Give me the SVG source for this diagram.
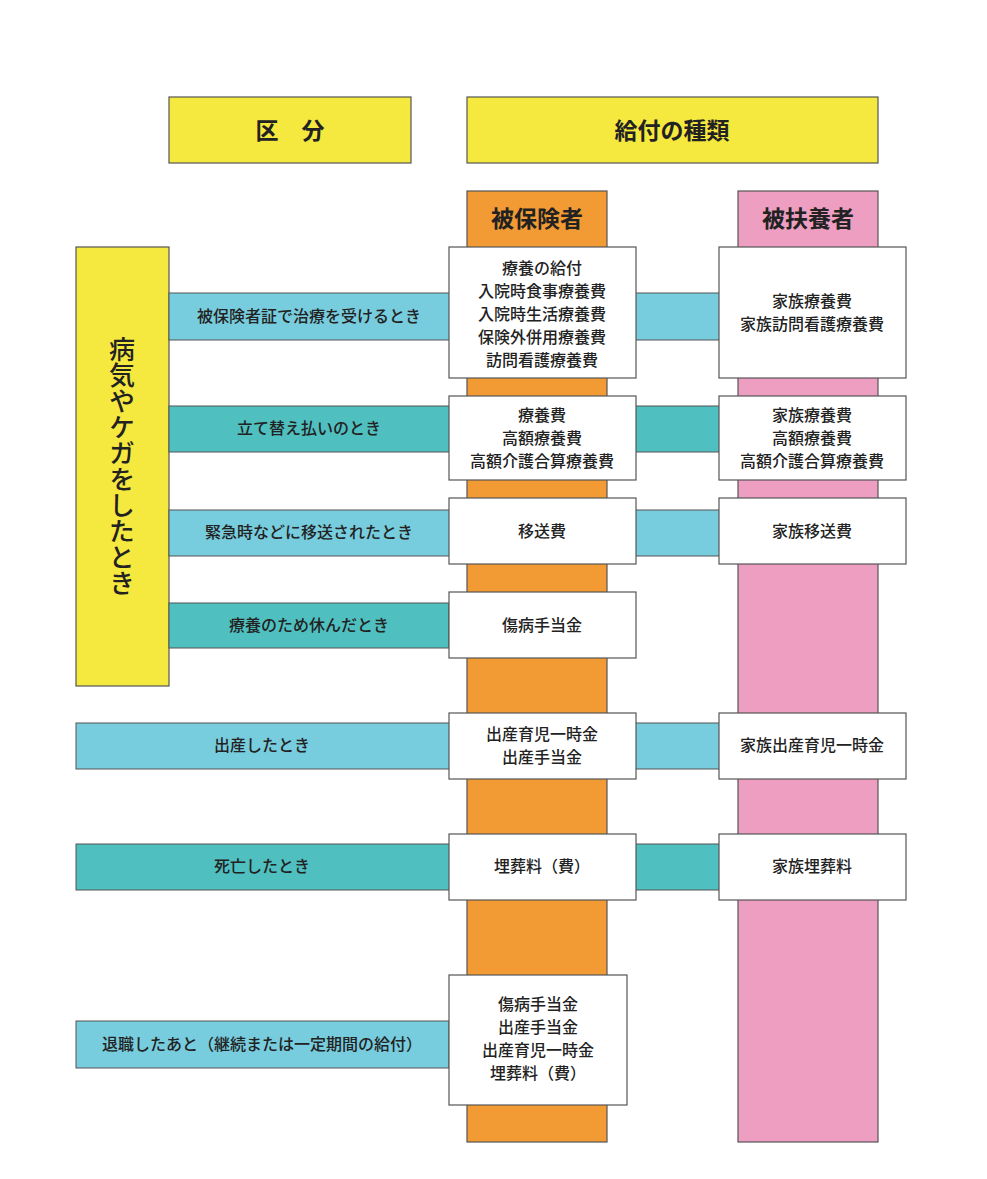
<svg xmlns="http://www.w3.org/2000/svg" width="987" height="1179" viewBox="0 0 987 1179">
<style>
text{font-family:"Noto Sans CJK JP","Noto Sans",sans-serif;fill:#222;text-anchor:middle}
.y{fill:#F5E83E;stroke:#555;stroke-width:1.2}
.o{fill:#F29A33;stroke:#555;stroke-width:1.2}
.p{fill:#EE9EC0;stroke:#555;stroke-width:1.2}
.lb{fill:#77CCDD;stroke:#555;stroke-width:1}
.tl{fill:#4FBFBF;stroke:#555;stroke-width:1}
.w{fill:#fff;stroke:#555;stroke-width:1.2}
.t{font-size:16px;font-weight:500}
.h{font-size:23px;font-weight:bold}
</style>
<rect width="987" height="1179" fill="#fff"/>
<g id="hdr1"><rect class="y" x="169" y="97" width="242" height="66"/><text class="h" x="290" y="139">区　分</text></g>
<g id="hdr2"><rect class="y" x="467" y="97" width="411" height="66"/><text class="h" x="672" y="139">給付の種類</text></g>
<g id="col1"><rect class="o" x="467" y="191" width="140" height="951"/><text class="h" x="537" y="227">被保険者</text></g>
<g id="col2"><rect class="p" x="738" y="191" width="140" height="951"/><text class="h" x="808" y="227">被扶養者</text></g>
<g id="side"><rect class="y" x="76" y="247" width="93" height="439"/>
<text style="font-size:26px;font-weight:500;writing-mode:vertical-rl;text-anchor:middle" x="122" y="466">病気やケガをしたとき</text></g>
<g id="connectors">
<rect class="lb" x="169" y="293" width="569" height="47"/>
<rect class="tl" x="169" y="406" width="569" height="46"/>
<rect class="lb" x="169" y="510" width="569" height="46"/>
<rect class="tl" x="169" y="603" width="280" height="45"/>
<rect class="lb" x="76" y="723" width="662" height="46"/>
<rect class="tl" x="76" y="844" width="662" height="46"/>
<rect class="lb" x="76" y="1021" width="373" height="47"/>
</g>
<g id="labels">
<text class="t" x="309" y="322">被保険者証で治療を受けるとき</text>
<text class="t" x="309" y="434">立て替え払いのとき</text>
<text class="t" x="309" y="538">緊急時などに移送されたとき</text>
<text class="t" x="309" y="631">療養のため休んだとき</text>
<text class="t" x="262" y="751">出産したとき</text>
<text class="t" x="262" y="872">死亡したとき</text>
<text class="t" x="262" y="1050">退職したあと（継続または一定期間の給付）</text>
</g>
<g id="b1"><rect class="w" x="449" y="247" width="187" height="131"/>
<text class="t" x="542" y="274">療養の給付</text><text class="t" x="542" y="297">入院時食事療養費</text><text class="t" x="542" y="320">入院時生活療養費</text><text class="t" x="542" y="343">保険外併用療養費</text><text class="t" x="542" y="366">訪問看護療養費</text></g>
<g id="b1f"><rect class="w" x="719" y="247" width="187" height="131"/>
<text class="t" x="812" y="307">家族療養費</text><text class="t" x="812" y="330">家族訪問看護療養費</text></g>
<g id="b2"><rect class="w" x="449" y="396" width="187" height="84"/>
<text class="t" x="542" y="421">療養費</text><text class="t" x="542" y="444">高額療養費</text><text class="t" x="542" y="467">高額介護合算療養費</text></g>
<g id="b2f"><rect class="w" x="719" y="396" width="187" height="84"/>
<text class="t" x="812" y="421">家族療養費</text><text class="t" x="812" y="444">高額療養費</text><text class="t" x="812" y="467">高額介護合算療養費</text></g>
<g id="b3"><rect class="w" x="449" y="498" width="187" height="66"/><text class="t" x="542" y="537">移送費</text></g>
<g id="b3f"><rect class="w" x="719" y="498" width="187" height="66"/><text class="t" x="812" y="537">家族移送費</text></g>
<g id="b4"><rect class="w" x="449" y="592" width="187" height="66"/><text class="t" x="542" y="631">傷病手当金</text></g>
<g id="b5"><rect class="w" x="449" y="713" width="187" height="66"/><text class="t" x="542" y="740">出産育児一時金</text><text class="t" x="542" y="763">出産手当金</text></g>
<g id="b5f"><rect class="w" x="719" y="713" width="187" height="66"/><text class="t" x="812" y="751">家族出産育児一時金</text></g>
<g id="b6"><rect class="w" x="449" y="834" width="187" height="66"/><text class="t" x="542" y="872">埋葬料（費）</text></g>
<g id="b6f"><rect class="w" x="719" y="834" width="187" height="66"/><text class="t" x="812" y="872">家族埋葬料</text></g>
<g id="b7"><rect class="w" x="449" y="975" width="178" height="130"/>
<text class="t" x="538" y="1010">傷病手当金</text><text class="t" x="538" y="1033">出産手当金</text><text class="t" x="538" y="1056">出産育児一時金</text><text class="t" x="538" y="1079">埋葬料（費）</text></g>
</svg>
